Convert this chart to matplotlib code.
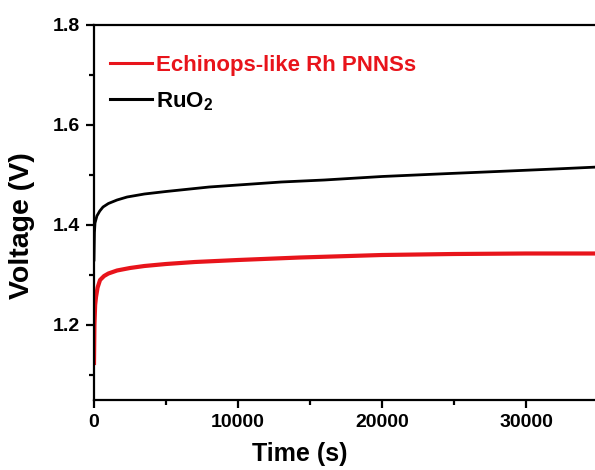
import numpy as np
import matplotlib
matplotlib.use('Agg')
import matplotlib.pyplot as plt
from matplotlib.ticker import MultipleLocator

plt.rcParams['font.family'] = ['Liberation Sans', 'DejaVu Sans']
plt.rcParams['font.weight'] = 'bold'
plt.rcParams['mathtext.fontset'] = 'custom'
plt.rcParams['mathtext.rm'] = 'Liberation Sans:bold'
plt.rcParams['mathtext.it'] = 'Liberation Sans:bold'
plt.rcParams['mathtext.bf'] = 'Liberation Sans:bold'

# chronopotentiometry, Rh PNNSs
t_rh = [0, 30, 80, 140, 250, 420, 700, 1000, 1600, 2500, 3500, 5000, 7000,
        10000, 14300, 20000, 25000, 30000, 35000]
v_rh = [1.124, 1.20, 1.24, 1.256, 1.275, 1.29, 1.298, 1.303, 1.309, 1.314,
        1.318, 1.322, 1.326, 1.33, 1.335, 1.34, 1.342, 1.343, 1.343]

# RuO2 reference
t_ru = [0, 30, 70, 200, 400, 625, 1000, 1600, 2300, 3500, 5000, 6000, 8000,
        10000, 13000, 16000, 20000, 24700, 28000, 32000, 35000]
v_ru = [1.33, 1.385, 1.404, 1.418, 1.428, 1.436, 1.443, 1.45, 1.456, 1.462,
        1.467, 1.47, 1.476, 1.48, 1.486, 1.49, 1.497, 1.503, 1.507, 1.512, 1.516]

fig = plt.figure(figsize=(5.95, 4.70), dpi=100)
ax = fig.add_axes([94/595, 70/470, 504/595, 375/470])

ax.plot(t_rh, v_rh, color='#e8141b', lw=3.0, label='Echinops-like Rh PNNSs')
ax.plot(t_ru, v_ru, color='black', lw=2.0, label=r'RuO$_2$')

ax.set_xlim(0, 35000)
ax.set_ylim(1.05, 1.8)
ax.xaxis.set_major_locator(MultipleLocator(10000))
ax.xaxis.set_minor_locator(MultipleLocator(5000))
ax.yaxis.set_major_locator(MultipleLocator(0.2))
ax.yaxis.set_minor_locator(MultipleLocator(0.1))
ax.yaxis.set_major_formatter(matplotlib.ticker.FormatStrFormatter('%.1f'))

ax.spines['right'].set_visible(False)
for s in ['left', 'bottom', 'top']:
    ax.spines[s].set_linewidth(1.6)
ax.tick_params(which='major', direction='out', length=6, width=1.6,
               labelsize=14, pad=4)
ax.tick_params(which='minor', direction='out', length=3.5, width=1.6)
ax.tick_params(top=False, right=False)

ax.set_xlabel('Time (s)', fontsize=18, fontweight='bold')
ax.xaxis.set_label_coords((300 - 94) / 504, -0.112)
ax.set_ylabel('Voltage (V)', fontsize=20.5, fontweight='bold')
ax.yaxis.set_label_coords(-0.118, 0.464)

leg = ax.legend(loc='upper left', bbox_to_anchor=(0.0, 0.962), frameon=False,
                fontsize=16, handlelength=1.9, handletextpad=0.2,
                labelspacing=0.65, labelcolor='linecolor', borderaxespad=0.3)
for line in leg.get_lines():
    line.set_linewidth(2.2)

fig.savefig('out.png', dpi=100)
